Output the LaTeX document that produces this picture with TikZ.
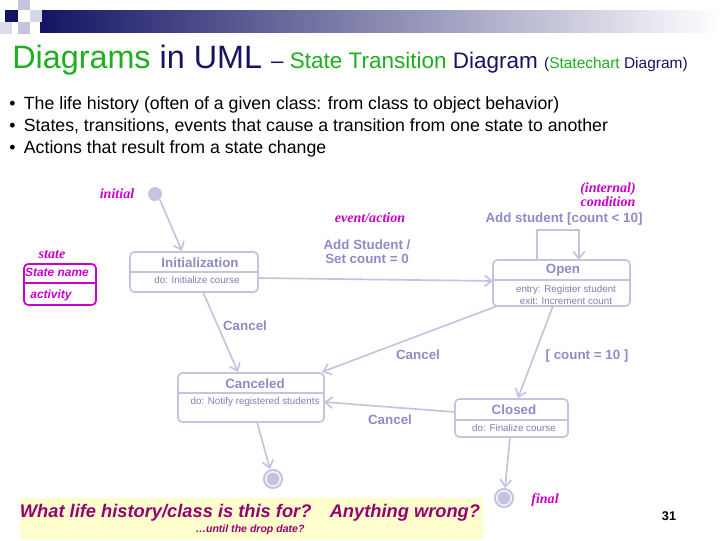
\documentclass[tikz,border=0pt]{standalone}
\usepackage{fontspec}
\setmainfont{Liberation Sans}
\newfontfamily\serifit{Liberation Serif}
\usepackage{xcolor}
\usetikzlibrary{arrows.meta}
\definecolor{lav}{RGB}{196,196,222}
\definecolor{lavtext}{RGB}{140,140,200}
\definecolor{magent}{RGB}{200,0,200}
\definecolor{titlegreen}{RGB}{30,175,30}
\definecolor{navy}{RGB}{20,20,100}
\definecolor{plum}{RGB}{150,0,110}
\definecolor{pale}{RGB}{255,255,205}
\tikzset{>=Stealth}
\tikzset{%
    trans/.style={->,draw=lav,line width=1.2pt,>={Straight Barb[length=5pt,width=8pt]}},
    statebox/.style={draw=lav,line width=1.2pt,rounded corners=3pt},
    lbl/.style={text=lavtext,font=\fontsize{9.5}{10}\selectfont\bfseries},
    small/.style={text=lavtext!90!black,font=\fontsize{7}{8}\selectfont},
    note/.style={text=magent,font=\fontsize{10}{11}\selectfont\serifit\bfseries\itshape}
}
\begin{document}
\begin{tikzpicture}[x=0.025cm,y=-0.025cm]
    \useasboundingbox (0,0) rectangle (720,540);
    % header
    \shade[left color=navy,right color=white] (40,10) rectangle (720,32);
    \fill[navy] (5,10) rectangle (18,22);
    \fill[lav] (18,0) rectangle (30,10);
    \fill[lav!70] (30,10) rectangle (42,22);
    \fill[lav] (18,22) rectangle (30,34);
    \fill[lav!60] (0,22) rectangle (12,34);
    \node[anchor=base west,inner sep=0] (title) at (12,68) {\fontsize{23}{25}\selectfont\color{titlegreen}Diagrams \color{navy}in UML \fontsize{16}{18}\selectfont\color{navy}– \color{titlegreen}State Transition \color{navy}Diagram \fontsize{11}{12}\selectfont(\color{titlegreen}Statechart \color{navy}Diagram)};
    \foreach \y/\t in {104/The life history (often of a given class: from class to object behavior),
        126/{States, transitions, events that cause a transition from one state to another},
        148/Actions that result from a state change}
        \node[anchor=base west,inner sep=0,font=\fontsize{12.6}{13}\selectfont] at (9,\y+5) {•\hspace{6pt}\t};

    % legend
    \node[note] (initlbl) at (117,194) {initial};
    \node[note] (statelbl) at (52,255) {state};
    \draw[magent,line width=1.2pt,rounded corners=3pt] (24,264) rectangle (96,305);
    \draw[magent,line width=1.2pt] (24,283) -- (96,283);
    \node[note,font=\fontsize{8.5}{9}\selectfont\bfseries\itshape] (sname) at (57,272) {State name};
    \node[note,font=\fontsize{8.5}{9}\selectfont\bfseries\itshape] (sact) at (51,295) {activity};
    \node[note] (evlbl) at (370,218) {event/action};
    \node[note,align=center,font=\fontsize{10}{10}\selectfont\serifit\bfseries\itshape] (condlbl) at (608,195) {(internal)\\condition};
    \node[note] (finallbl) at (545,500) {final};

    % states
    \fill[lav] (155,194) circle (7) coordinate (init);
    \draw[statebox] (130,252) rectangle (258,292);
    \draw[lav,line width=1.2pt] (130,272) -- (258,272);
    \node[lbl] (initname) at (200,263) {Initialization};
    \node[small] (initdo) at (197,280) {do: Initialize course};

    \draw[statebox] (493,260) rectangle (630,306);
    \draw[lav,line width=1.2pt] (493,280) -- (630,280);
    \node[lbl] (openname) at (563,270) {Open};
    \node[small,align=center] (opendo) at (566,295) {entry: Register student\\exit: Increment count};

    \draw[statebox] (178,373) rectangle (324,422);
    \draw[lav,line width=1.2pt] (178,393) -- (324,393);
    \node[lbl] (cancname) at (255,384) {Canceled};
    \node[small] (cancdo) at (255,402) {do: Notify registered students};

    \draw[statebox] (455,399) rectangle (568,437);
    \draw[lav,line width=1.2pt] (455,420) -- (568,420);
    \node[lbl] (closname) at (514,410) {Closed};
    \node[small] (closdo) at (514,428) {do: Finalize course};

    \draw[lav,line width=1.5pt] (273,479) circle (9);
    \fill[lav] (273,479) circle (6.5) coordinate (fin1);
    \draw[lav,line width=1.5pt] (504,498) circle (9);
    \fill[lav] (504,498) circle (6.5) coordinate (fin2);

    % transitions
    \draw[trans] (160,200) -- (182,251);
    \draw[trans] (258,278) -- (493,281);
    \draw[trans] (537,260) -- (537,230) -- (579,230) -- (579,260);
    \draw[trans] (203,292) -- (238,372);
    \draw[trans] (497,306) -- (322,372);
    \draw[trans] (553,306) -- (518,398);
    \draw[trans] (455,412) -- (324,402);
    \draw[trans] (257,422) -- (270,469);
    \draw[trans] (510,437) -- (505,488);

    % labels
    \node[lbl,align=center] (addlbl) at (367,252) {Add Student /\\Set count = 0};
    \node[lbl] (selflbl) at (564,219) {Add student [count < 10]};
    \node[lbl] (c1) at (245,326) {Cancel};
    \node[lbl] (c2) at (418,355) {Cancel};
    \node[lbl] (c3) at (390,420) {Cancel};
    \node[lbl] (fulllbl) at (587,356) {[ count = 10 ]};

    % question
    \fill[pale] (20,498) rectangle (483,540);
    \node[text=plum,font=\fontsize{13}{14}\selectfont\bfseries\itshape] (q) at (250,513) {What life history/class is this for?\quad Anything wrong?};
    \node[text=plum,font=\fontsize{7.5}{8}\selectfont\bfseries\itshape] (q2) at (250,530) {…until the drop date?};
    \node[font=\fontsize{9}{10}\selectfont\bfseries] (pg) at (669,516) {31};
\end{tikzpicture}
\end{document}
